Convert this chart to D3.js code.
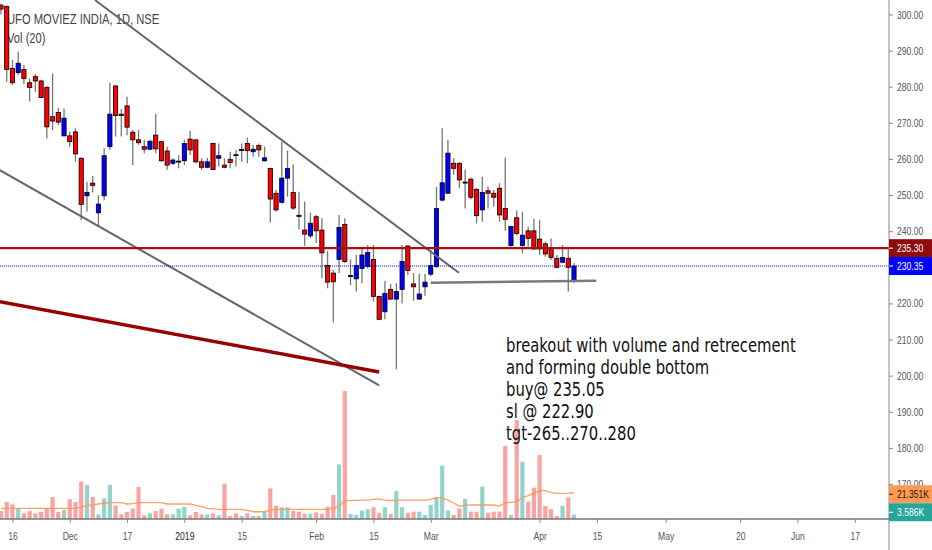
<!DOCTYPE html>
<html>
<head>
<meta charset="utf-8">
<script src="https://cdn.jsdelivr.net/npm/d3@7"></script>
<style>
  body { margin: 0; background: #fff; }
  svg { display: block; font-family: "Liberation Sans", Arial, sans-serif; }
</style>
</head>
<body>
<svg id="chart" width="932" height="550"></svg>
<script>
// daily bars, index 0 = a couple of sessions before Nov 16 2018
var open = [
  302.6, 302.2, 285.1, 283.9, 284.8, 281.1, 282.8, 281.6, 279.8, 271.7,
  272.9, 266.4, 266.4, 267.5, 260.2, 249.8, 253.3, 245.1, 249.8, 263.4,
  280.2, 272.4, 274.7, 267.4, 265.3, 263.4, 262.7, 266.6, 264.8, 262.2,
  258.8, 259.3, 259.5, 265.5, 265.3, 259.2, 257.7, 264.3, 260.2, 258.3,
  259.9, 261.2, 262.4, 264.3, 262.0, 263.7, 259.5, 257.4, 250.5, 248.0,
  254.7, 250.7, 244.4, 240.3, 238.7, 244.0, 240.3, 230.5, 228.4, 232.2,
  241.9, 227.5, 226.8, 229.7, 230.2, 232.2, 221.9, 217.7, 223.9, 221.2,
  223.9, 235.9, 225.4, 221.2, 224.6, 228.1, 230.2, 248.6, 250.5, 258.8,
  258.8, 253.4, 254.4, 251.6, 245.9, 251.2, 250.5, 251.9, 246.3, 236.0,
  243.7, 236.0, 240.1, 240.1, 237.8, 236.5, 235.3, 232.5, 231.4, 232.5,
  226.3
];
var high = [
  303.0, 302.5, 287.4, 289.7, 286.0, 282.3, 283.5, 281.9, 280.2, 283.7,
  274.1, 274.0, 267.6, 268.5, 260.5, 253.7, 255.3, 250.0, 263.0, 281.0,
  280.5, 273.8, 277.2, 268.0, 268.0, 265.3, 265.3, 272.5, 265.0, 263.4,
  260.2, 261.1, 265.3, 267.8, 265.3, 260.2, 260.3, 264.5, 264.3, 260.2,
  262.0, 262.5, 264.3, 265.9, 263.9, 264.3, 263.4, 257.5, 251.4, 264.8,
  262.3, 258.5, 250.9, 248.2, 245.1, 244.5, 243.6, 234.5, 229.3, 244.5,
  243.6, 232.2, 233.4, 235.3, 236.2, 236.2, 222.1, 226.2, 225.4, 225.6,
  236.2, 236.2, 228.4, 228.2, 228.2, 234.8, 252.3, 268.5, 265.3, 260.2,
  259.2, 257.1, 254.9, 251.9, 255.1, 252.3, 251.4, 253.3, 260.4, 241.3,
  245.7, 245.4, 241.3, 243.4, 243.1, 237.1, 238.0, 233.4, 236.2, 235.7,
  231.1
];
var low = [
  300.0, 281.4, 280.5, 283.2, 280.8, 275.9, 278.6, 276.8, 265.7, 268.0,
  269.4, 266.2, 263.4, 259.2, 243.1, 245.4, 250.7, 241.3, 248.6, 262.5,
  266.2, 266.2, 266.6, 258.3, 263.9, 261.6, 262.5, 261.6, 259.2, 257.0,
  258.3, 257.4, 258.3, 261.1, 258.8, 257.0, 257.4, 257.0, 257.9, 257.4,
  257.4, 257.9, 259.2, 258.8, 260.6, 260.6, 259.2, 242.4, 245.4, 247.7,
  249.6, 245.9, 240.5, 235.9, 238.1, 236.7, 227.0, 224.2, 214.7, 228.4,
  231.2, 225.1, 223.3, 225.6, 229.7, 220.5, 215.4, 215.6, 221.0, 201.8,
  220.0, 227.9, 220.7, 221.0, 222.1, 227.6, 229.8, 248.2, 250.5, 255.6,
  251.9, 246.3, 248.8, 242.2, 242.6, 246.3, 246.8, 242.6, 240.1, 235.7,
  238.9, 233.9, 235.7, 234.8, 233.4, 232.9, 232.0, 229.7, 231.1, 223.3,
  225.7
];
var close = [
  301.5, 284.8, 281.1, 286.5, 282.3, 279.8, 281.6, 277.0, 268.9, 270.5,
  270.2, 271.3, 264.8, 261.4, 247.4, 250.7, 252.7, 247.5, 260.9, 272.4,
  272.0, 272.0, 268.8, 265.3, 264.5, 262.7, 264.9, 262.8, 259.5, 258.3,
  259.7, 259.4, 264.3, 262.5, 259.2, 257.7, 259.2, 257.1, 260.9, 257.7,
  259.0, 261.0, 262.6, 262.3, 262.7, 262.5, 260.3, 248.9, 245.9, 254.7,
  257.4, 246.4, 244.1, 239.2, 242.2, 240.1, 234.0, 225.9, 226.0, 241.0,
  231.6, 227.7, 230.5, 233.4, 234.1, 221.9, 215.6, 222.8, 221.2, 223.3,
  231.6, 229.1, 224.6, 222.6, 225.9, 230.5, 246.3, 253.4, 261.6, 257.4,
  254.2, 253.6, 249.4, 244.3, 250.7, 250.5, 249.4, 244.5, 243.3, 241.3,
  239.4, 238.9, 238.0, 235.1, 235.1, 233.7, 232.7, 230.0, 232.7, 230.0,
  230.35
];
// volume in thousands
var volume = [
  6.5, 13.8, 11.9, 8.4, 4.6, 6.5, 4.6, 5.7, 8.4, 17.9,
  5.7, 7.3, 16.0, 13.8, 30.4, 27.6, 17.9, 3.8, 16.8, 27.6,
  11.1, 3.8, 5.7, 8.4, 26.0, 3.0, 4.6, 6.5, 8.4, 3.8,
  3.8, 8.4, 10.0, 3.0, 5.7, 3.8, 3.8, 4.6, 3.0, 28.7,
  2.4, 4.6, 2.4, 4.6, 2.4, 2.4, 5.7, 24.9, 10.6, 9.5,
  9.5, 6.5, 6.0, 4.3, 4.3, 5.4, 4.1, 10.0, 19.5, 44.4,
  104.0, 4.1, 3.3, 6.8, 7.9, 9.5, 5.1, 9.5, 4.1, 22.8,
  9.5, 5.1, 6.0, 6.0, 3.3, 11.4, 17.6, 43.4, 6.8, 3.3,
  8.7, 16.3, 6.0, 6.0, 26.3, 5.1, 6.0, 6.0, 59.3, 3.3,
  80.5, 46.6, 14.1, 25.5, 52.0, 10.6, 7.9, 2.4, 10.6, 17.6,
  3.586
];
// Vol(20) moving average as drawn, thousands
var volMA = [
  8.7, 8.7, 8.7, 8.7, 8.7, 8.7, 8.7, 8.7, 8.7, 8.7,
  8.7, 8.7, 8.7, 8.7, 9.5, 11.0, 11.4, 12.2, 12.8, 13.3,
  13.3, 13.3, 12.2, 12.5, 13.3, 13.3, 13.3, 13.3, 13.3, 12.2,
  12.2, 12.2, 12.2, 12.2, 11.0, 10.0, 8.7, 8.3, 7.9, 7.9,
  7.9, 7.9, 7.9, 7.0, 5.9, 5.9, 5.9, 7.3, 7.9, 7.9,
  7.9, 7.9, 7.9, 7.9, 7.9, 7.9, 7.9, 7.9, 8.5, 10.5,
  14.9, 14.9, 15.2, 15.4, 15.4, 15.9, 16.3, 15.4, 14.9, 15.4,
  15.4, 15.4, 15.4, 15.4, 15.4, 16.0, 17.3, 17.0, 15.4, 13.0,
  10.6, 11.0, 11.4, 11.4, 11.4, 11.4, 11.4, 10.6, 13.3, 13.5,
  14.1, 17.3, 19.0, 20.9, 23.0, 23.0, 21.5, 20.9, 20.9, 21.0,
  21.351
];

var tickIdx = [2, 12, 22, 32, 42, 55, 65, 75, 94, 104, 116, 129, 139, 149];
var tickLabels = ["16", "Dec", "17", "2019", "15", "Feb", "15", "Mar", "Apr", "15", "May", "20", "Jun", "17"];
var priceTicks = [300, 290, 280, 270, 260, 250, 240, 220, 210, 200, 190, 180, 170];

// drawings: [barIndex, price]
var upperTrend = [[16.4, 304.0], [79.9, 228.5]];
var lowerTrend = [[-0.2, 256.9], [66.0, 197.3]];
var redTrend = [[-0.2, 220.5], [66.0, 201.0]];
var supportLine = [[75, 225.7], [103.9, 226.3]];
var resistance = 235.30;
var lastPrice = 230.35;

var noteLines = [
  "breakout with volume and retrecement",
  "and forming double bottom",
  "buy@ 235.05",
  "sl @ 222.90",
  "tgt-265..270..280"
];

var axisX = 889, axisY = 519;
var SX = 0.78; // the screenshot is horizontally condensed

var svg = d3.select('#chart');
var x = d3.scaleLinear().domain([0, 100]).range([1, 574]);
var y = d3.scaleLinear().domain([170, 300]).range([484, 14.5]);
var yv = d3.scaleLinear().domain([0, 100]).range([axisY, axisY - 123]);

function squish(sel, sx) {
  sel.each(function() {
    var t = d3.select(this);
    var tx = +t.attr('x') || 0, ty = +t.attr('y') || 0;
    t.attr('x', 0).attr('y', 0)
      .attr('transform', 'translate(' + tx + ',' + ty + ') scale(' + sx + ',1)');
  });
}

// title
var title = svg.append('g');
title.append('text').attr('x', 7).attr('y', 24)
  .style('font-size', '14px').style('fill', '#444')
  .text('UFO MOVIEZ INDIA, 1D, NSE');
title.append('text').attr('x', 7).attr('y', 43)
  .style('font-size', '14px').style('fill', '#444')
  .text('Vol (20)');
squish(title.selectAll('text'), 0.8);

var bars = d3.range(open.length);
var bw = 4.2;

// volume
svg.append('g').selectAll('rect')
  .data(bars).enter().append('rect')
  .attr('x', function(i) { return x(i) - bw / 2; })
  .attr('y', function(i) { return yv(volume[i]); })
  .attr('width', bw)
  .attr('height', function(i) { return axisY - yv(volume[i]); })
  .style('fill', function(i) { return close[i] >= open[i] ? '#92d3cc' : '#f7a5a3'; });

svg.append('path')
  .datum(bars)
  .attr('d', d3.line().x(function(i) { return x(i); }).y(function(i) { return yv(volMA[i]); }))
  .style('fill', 'none')
  .style('stroke', '#ff9650')
  .style('stroke-width', 1.3)
  .style('opacity', 0.9);

// candles
var candles = svg.append('g');
candles.selectAll('line')
  .data(bars).enter().append('line')
  .attr('x1', function(i) { return x(i); })
  .attr('x2', function(i) { return x(i); })
  .attr('y1', function(i) { return y(high[i]); })
  .attr('y2', function(i) { return y(low[i]); })
  .style('stroke', '#777')
  .style('stroke-width', 1.3);
candles.selectAll('rect')
  .data(bars).enter().append('rect')
  .attr('x', function(i) { return x(i) - bw / 2; })
  .attr('y', function(i) { return y(Math.max(open[i], close[i])); })
  .attr('width', bw)
  .attr('height', function(i) { return Math.max(1, Math.abs(y(open[i]) - y(close[i]))); })
  .style('fill', function(i) { return close[i] >= open[i] ? '#0000ff' : '#ff0000'; })
  .style('stroke', '#000')
  .style('stroke-width', 0.8);

// drawings
var seg = d3.line().x(function(d) { return x(d[0]); }).y(function(d) { return y(d[1]); });
svg.append('path').datum(upperTrend).attr('d', seg)
  .style('stroke', '#666').style('stroke-width', 2).style('fill', 'none');
svg.append('path').datum(lowerTrend).attr('d', seg)
  .style('stroke', '#666').style('stroke-width', 2).style('fill', 'none');
svg.append('path').datum(redTrend).attr('d', seg)
  .style('stroke', '#990000').style('stroke-width', 3.5).style('fill', 'none');
svg.append('path').datum(supportLine).attr('d', seg)
  .style('stroke', '#7a7a7a').style('stroke-width', 2.5).style('fill', 'none');

svg.append('line')
  .attr('x1', 0).attr('x2', axisX)
  .attr('y1', y(resistance)).attr('y2', y(resistance))
  .style('stroke', '#a31212').style('stroke-width', 2.2);
svg.append('line')
  .attr('x1', 0).attr('x2', axisX)
  .attr('y1', y(lastPrice)).attr('y2', y(lastPrice))
  .style('stroke', '#0000ff').style('stroke-width', 1)
  .style('stroke-dasharray', '1,1');

// note
var note = svg.append('g');
note.selectAll('text')
  .data(noteLines).enter().append('text')
  .attr('x', 506)
  .attr('y', function(d, i) { return 352 + i * 22; })
  .style('font-family', '"DejaVu Sans", Verdana, sans-serif')
  .style('font-size', '19.5px')
  .style('fill', '#111')
  .text(function(d) { return d; });
var nw = note.select('text').node().getComputedTextLength();
squish(note.selectAll('text'), 290 / nw);

// axes frame
svg.append('line').attr('x1', axisX).attr('x2', axisX).attr('y1', 0).attr('y2', 550)
  .style('stroke', '#888').style('stroke-width', 1);
svg.append('line').attr('x1', 0).attr('x2', axisX).attr('y1', axisY).attr('y2', axisY)
  .style('stroke', '#777').style('stroke-width', 1.5);

var yAxis = svg.append('g')
  .attr('transform', 'translate(' + axisX + ',0)')
  .call(d3.axisRight(y).tickValues(priceTicks).tickFormat(d3.format('.2f')).tickSize(4).tickPadding(4));
yAxis.select('.domain').remove();
yAxis.selectAll('line').style('stroke', '#888');
yAxis.selectAll('text').style('font-size', '11px').style('fill', '#555')
  .style('font-family', '"Liberation Sans", Arial, sans-serif');
squish(yAxis.selectAll('text'), SX);

var xAxis = svg.append('g')
  .attr('transform', 'translate(0,' + axisY + ')')
  .call(d3.axisBottom(x).tickValues(tickIdx)
    .tickFormat(function(d, i) { return tickLabels[i]; })
    .tickSize(4).tickPadding(9));
xAxis.select('.domain').remove();
xAxis.selectAll('line').style('stroke', '#888');
xAxis.selectAll('text').style('font-size', '11px')
  .style('font-family', '"Liberation Sans", Arial, sans-serif')
  .style('fill', function(d, i) { return tickLabels[i] === '2019' ? '#222' : '#555'; });
squish(xAxis.selectAll('text'), SX);

// right-side value labels
function tag(cy, txt, bg, fg) {
  var g = svg.append('g');
  g.append('rect').attr('x', axisX).attr('y', cy - 9).attr('width', 932 - axisX).attr('height', 18)
    .style('fill', bg);
  g.append('line').attr('x1', axisX).attr('x2', axisX + 4).attr('y1', cy).attr('y2', cy)
    .style('stroke', fg);
  var t = g.append('text').attr('x', axisX + 8).attr('y', cy).attr('dy', '0.35em')
    .style('font-size', '11px').style('fill', fg).text(txt);
  squish(t, SX);
}
tag(y(resistance), d3.format('.2f')(resistance), '#8e0b0b', '#fff');
tag(y(lastPrice), d3.format('.2f')(lastPrice), '#0000ff', '#fff');
var maY = yv(volMA[volMA.length - 1]);
tag(maY + 1.5, volMA[volMA.length - 1].toFixed(3) + 'K', '#ff9a55', '#2a1400');
tag(Math.min(yv(volume[volume.length - 1]), maY + 19.5), volume[volume.length - 1].toFixed(3) + 'K', '#26a69a', '#fff');
</script>
</body>
</html>
